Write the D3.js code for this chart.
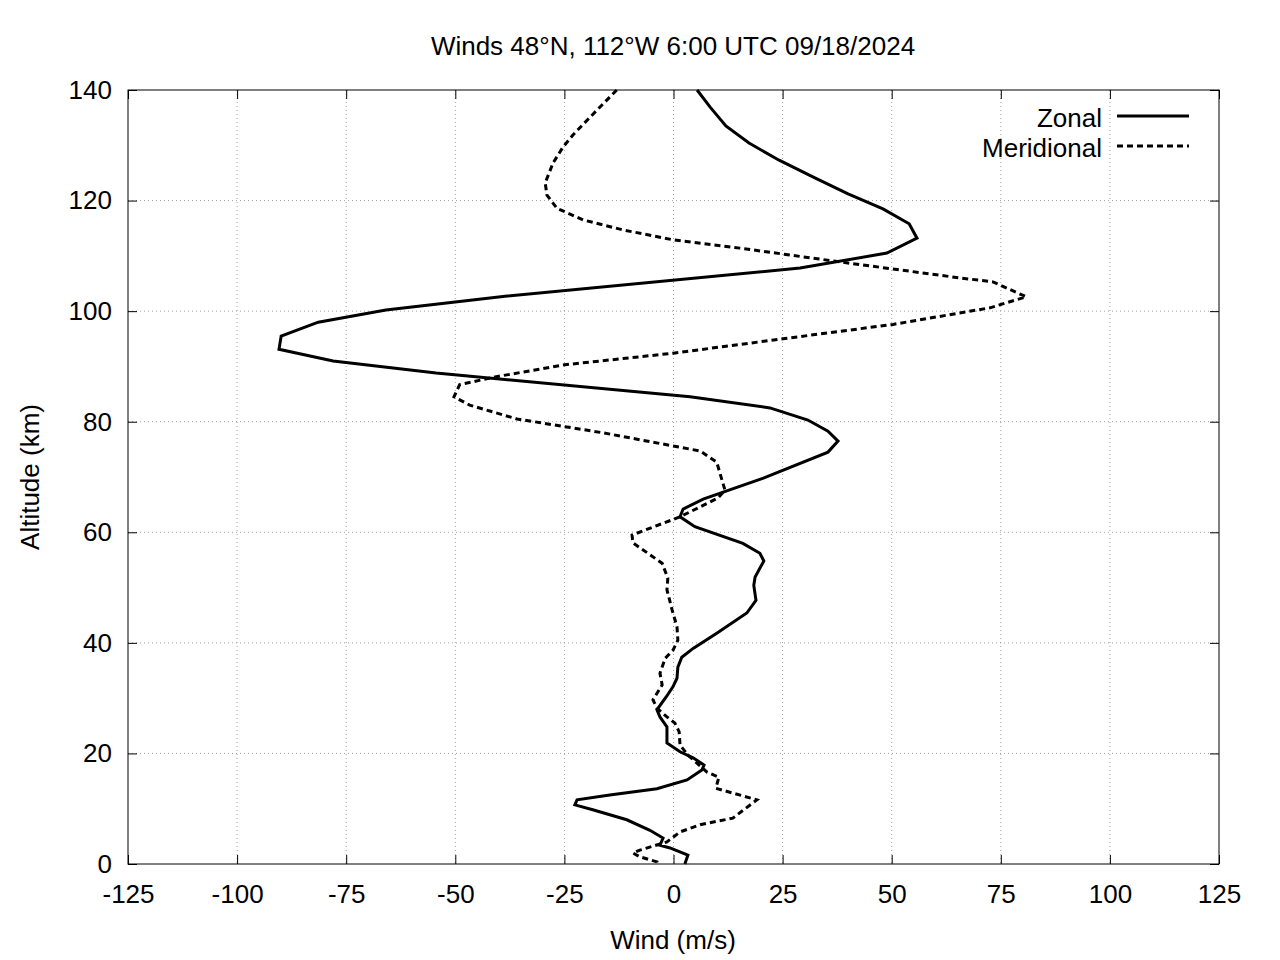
<!DOCTYPE html>
<html>
<head>
<meta charset="utf-8">
<script src="https://cdn.jsdelivr.net/npm/d3@7"></script>
<style>
  body { margin: 0; background: #fff; }
  text { font-family: "Liberation Sans", Arial, sans-serif; fill: #000; }
</style>
</head>
<body>
<div id="chart"></div>
<script>
// altitude (km) and wind (m/s)
const zonalAlt = [140, 136.9, 133.5, 130.4, 127.3, 124.1, 121.2, 118.5, 115.8, 113.2, 110.5, 107.8,
  102.7, 100.2, 98.0, 95.5, 93.1, 91.0, 88.8, 84.5, 82.5, 80.3, 78.3, 76.5, 74.5, 69.8, 66.0,
  64.2, 62.8, 61.0, 58.0, 56.2, 54.8, 51.9, 50.4, 47.7, 45.4, 41.8, 39.0, 37.4, 35.6, 33.6,
  32.1, 30.3, 27.9, 26.6, 24.8, 21.9, 20.3, 19.2, 17.9, 17.0, 15.2, 13.6, 12.5, 11.6, 10.7, 9.8,
  8.0, 6.1, 4.7, 3.4, 2.9, 1.6, 0];
const zonalWind = [5.4, 8.4, 12.0, 17.3, 24.2, 32.4, 40.0, 48.0, 54.0, 55.8, 48.9, 29.0,
  -38.6, -65.9, -81.4, -89.9, -90.4, -78.0, -54.4, 3.8, 22.1, 30.8, 35.4, 37.7, 35.4, 20.6, 6.8,
  2.2, 1.5, 4.9, 15.9, 19.8, 20.7, 18.7, 18.4, 18.9, 16.8, 10.0, 4.5, 1.9, 1.0, 0.8,
  -0.1, -1.6, -3.8, -3.1, -1.5, -1.5, 1.5, 4.5, 7.0, 6.5, 3.1, -3.8, -14.6, -22.1, -22.6, -18.5,
  -10.7, -5.4, -2.4, -3.1, -0.8, 3.3, 2.6];

const meridAlt = [140, 135.1, 131.9, 129.7, 126.8, 123.2, 121.0, 118.6, 116.5, 114.7, 112.9, 111.4,
  108.9, 106.0, 105.3, 102.6, 100.6, 97.6, 95.0, 92.4, 90.3, 88.1, 86.7, 84.5, 83.0, 80.5, 78.0,
  74.7, 72.7, 67.6, 66.2, 62.8, 59.5, 58.1, 54.4, 51.7, 49.6, 45.9, 42.9, 40.5, 38.7, 37.2,
  34.5, 32.4, 29.7, 28.2, 26.6, 25.5, 23.9, 21.5, 19.7, 16.6, 15.7, 13.7, 11.6, 8.3, 7.1, 5.8,
  4.0, 2.5, 2.0, 1.3, 0.4, 0];
const meridWind = [-13.0, -19.1, -23.0, -25.3, -27.6, -29.4, -29.0, -26.7, -20.7, -11.6, -0.1, 15.2,
  38.2, 65.7, 73.2, 80.8, 72.5, 50.3, 25.1, 0, -24.9, -40.9, -49.0, -50.3, -46.7, -35.9, -16.2,
  6.1, 9.9, 11.8, 10.2, 1.5, -9.5, -9.3, -2.6, -1.3, -1.5, -0.3, 0.8, 1.0, -0.1, -1.9,
  -3.1, -2.6, -4.7, -3.8, -1.5, 0.3, 1.3, 1.5, 3.3, 7.7, 10.4, 9.7, 19.1, 13.6, 6.1, 1.5,
  -1.5, -7.7, -9.3, -7.7, -3.8, -3.8];

const xTicks = [-125, -100, -75, -50, -25, 0, 25, 50, 75, 100, 125];
const yTicks = [0, 20, 40, 60, 80, 100, 120, 140];

const series = [
  {name: 'Zonal', alt: zonalAlt, wind: zonalWind, dash: null},
  {name: 'Meridional', alt: meridAlt, wind: meridWind, dash: '6,4'}
];

const W = 1280, H = 960;
const margin = {top: 90, right: 61, bottom: 96, left: 128};
const width = W - margin.left - margin.right;
const height = H - margin.top - margin.bottom;
const fontSize = '26px';

const svg = d3.select('#chart').append('svg')
  .attr('width', W)
  .attr('height', H);

const chart = svg.append('g')
  .attr('transform', `translate(${margin.left},${margin.top})`);

const x = d3.scaleLinear().domain([-125, 125]).range([0, width]);
const y = d3.scaleLinear().domain([0, 140]).range([height, 0]);

// grid
chart.append('g').selectAll('line')
  .data(xTicks.slice(1, -1))
  .join('line')
  .attr('x1', d => x(d)).attr('x2', d => x(d))
  .attr('y1', 0).attr('y2', height)
  .attr('stroke', '#a0a0a0').attr('stroke-width', 1)
  .attr('stroke-dasharray', '1,3');
chart.append('g').selectAll('line')
  .data(yTicks.slice(1, -1))
  .join('line')
  .attr('y1', d => y(d)).attr('y2', d => y(d))
  .attr('x1', 0).attr('x2', width)
  .attr('stroke', '#a0a0a0').attr('stroke-width', 1)
  .attr('stroke-dasharray', '1,3');

// axes, ticks pointing inward on all four sides
const tick = 9;
const fmt = d => String(d); // plain hyphen for negatives
const xAxisB = d3.axisBottom(x).tickValues(xTicks).tickSize(-tick).tickPadding(21).tickFormat(fmt);
const xAxisT = d3.axisTop(x).tickValues(xTicks).tickSize(-tick).tickFormat('');
const yAxisL = d3.axisLeft(y).tickValues(yTicks).tickSize(-tick).tickPadding(16).tickFormat(fmt);
const yAxisR = d3.axisRight(y).tickValues(yTicks).tickSize(-tick).tickFormat('');

chart.append('g').attr('transform', `translate(0,${height})`).call(xAxisB);
chart.append('g').call(xAxisT);
chart.append('g').call(yAxisL);
chart.append('g').attr('transform', `translate(${width},0)`).call(yAxisR);

chart.selectAll('.domain').remove();
chart.selectAll('.tick line').attr('stroke', '#000');
chart.selectAll('.tick text')
  .style('font-size', fontSize)
  .style('font-family', '"Liberation Sans", Arial, sans-serif');

chart.append('rect')
  .attr('width', width).attr('height', height)
  .attr('fill', 'none').attr('stroke', '#000').attr('stroke-width', 1);

// curves
const line = d3.line()
  .x(d => x(d[1]))
  .y(d => y(d[0]));

series.forEach(s => {
  chart.append('path')
    .datum(d3.zip(s.alt, s.wind))
    .attr('d', line)
    .attr('fill', 'none')
    .attr('stroke', '#000')
    .attr('stroke-width', 3)
    .attr('stroke-linejoin', 'miter')
    .attr('stroke-dasharray', s.dash);
});

// legend
const legend = svg.append('g');
series.forEach((s, i) => {
  const ly = 116 + i * 30;
  legend.append('text')
    .attr('x', 1102).attr('y', ly + 2)
    .attr('dy', '0.35em')
    .attr('text-anchor', 'end')
    .style('font-size', fontSize)
    .text(s.name);
  legend.append('line')
    .attr('x1', 1117).attr('x2', 1189)
    .attr('y1', ly).attr('y2', ly)
    .attr('stroke', '#000').attr('stroke-width', 3)
    .attr('stroke-dasharray', s.dash);
});

// titles
svg.append('text')
  .attr('x', 673).attr('y', 46)
  .attr('dy', '0.35em')
  .attr('text-anchor', 'middle')
  .style('font-size', fontSize)
  .text('Winds 48°N, 112°W 6:00 UTC 09/18/2024');

svg.append('text')
  .attr('x', 673).attr('y', 940)
  .attr('dy', '0.35em')
  .attr('text-anchor', 'middle')
  .style('font-size', fontSize)
  .text('Wind (m/s)');

svg.append('text')
  .attr('transform', 'translate(30,477) rotate(-90)')
  .attr('dy', '0.35em')
  .attr('text-anchor', 'middle')
  .style('font-size', fontSize)
  .text('Altitude (km)');
</script>
</body>
</html>
